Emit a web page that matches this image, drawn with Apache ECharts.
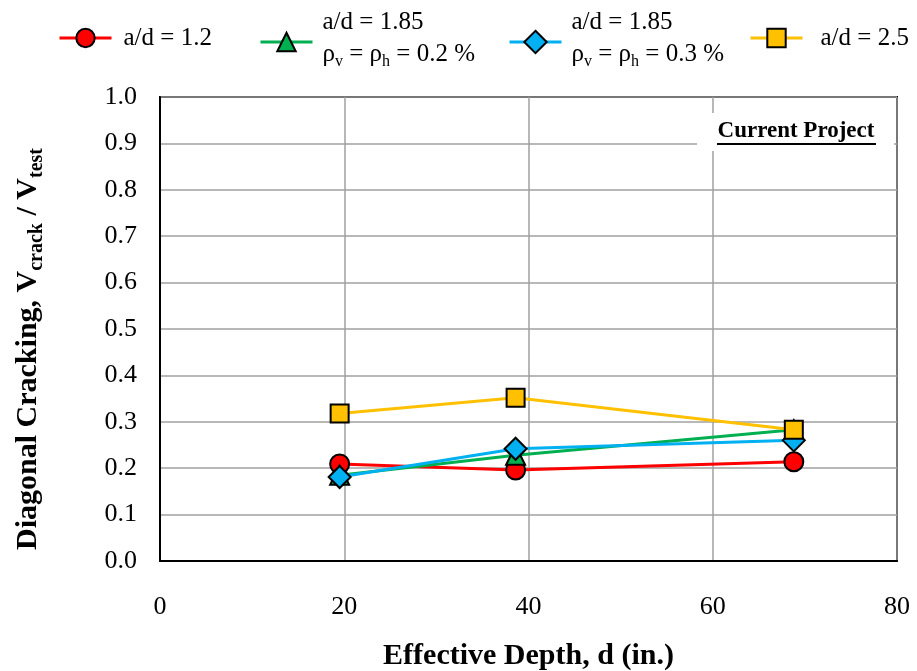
<!DOCTYPE html>
<html>
<head>
<meta charset="utf-8">
<script src="https://cdn.jsdelivr.net/npm/echarts@6/dist/echarts.min.js"></script>
<style>
  html, body { margin: 0; padding: 0; background: #fff; }
  #chart { width: 917px; height: 671px; }
</style>
</head>
<body>
<div id="chart"></div>
<script>
// Effective depth of the specimens (in.)
const depth = [19.5, 38.6, 68.8];

// Diagonal cracking ratio Vcrack / Vtest for each test group
const ad12      = [0.209, 0.196, 0.214];
const ad185p02  = [0.185, 0.228, 0.283];
const ad185p03  = [0.181, 0.242, 0.260];
const ad25      = [0.318, 0.352, 0.283];

// Axis tick settings
const xTicks = { min: 0, max: 80, step: 20 };
const yTicks = { min: 0, max: 1, step: 0.1 };

// Legend captions per series
const captions = {
  ad12: 'a/d = 1.2',
  ad185p02: 'a/d = 1.85\nρ{sub|v} = ρ{sub|h} = 0.2 %',
  ad185p03: 'a/d = 1.85\nρ{sub|v} = ρ{sub|h} = 0.3 %',
  ad25: 'a/d = 2.5'
};

const FONT = '"Liberation Serif", "Times New Roman", serif';
const pairs = arr => depth.map((d, i) => [d, arr[i]]);

const chart = echarts.init(document.getElementById('chart'), null, { renderer: 'canvas' });

function lineSeries(name, values, color, symbol, size) {
  return {
    name: name,
    type: 'line',
    data: pairs(values),
    symbol: symbol,
    symbolSize: size,
    lineStyle: { color: color, width: 3 },
    itemStyle: { color: color, borderColor: '#000', borderWidth: 2 },
    emphasis: { disabled: true },
    animation: false
  };
}

const legendText = {
  fontFamily: FONT,
  fontSize: 25,
  color: '#000',
  lineHeight: 32,
  rich: {
    sub: { fontFamily: FONT, fontSize: 16, color: '#000', verticalAlign: 'bottom', lineHeight: 26 }
  }
};

function legendAt(name, left, top, pad, itemH) {
  return {
    data: [name],
    left: left,
    top: top,
    padding: 0,
    itemWidth: 52,
    itemHeight: itemH,
    itemGap: 0,
    selectedMode: false,
    formatter: n => captions[n],
    lineStyle: { width: 3 },
    itemStyle: { borderColor: '#000', borderWidth: 2 },
    textStyle: Object.assign({ padding: pad }, legendText)
  };
}

chart.setOption({
  backgroundColor: '#fff',
  animation: false,
  legend: [
    legendAt('ad12', 58, 22, [0, 0, 0, 7], 23),
    legendAt('ad185p02', 259, 6, [0, 0, 8, 5], 23),
    legendAt('ad185p03', 508, 6, [0, 0, 8, 5], 28),
    legendAt('ad25', 749, 22, [0, 0, 0, 13], 23)
  ],
  grid: {
    left: 160, right: 20, top: 97, bottom: 110,
    outerBoundsMode: 'none',
    containLabel: false,
    show: true, borderColor: '#000', borderWidth: 2, backgroundColor: '#fff'
  },
  xAxis: {
    type: 'value',
    min: xTicks.min, max: xTicks.max, interval: xTicks.step,
    axisLine: { show: true, lineStyle: { color: '#000', width: 2 } },
    axisTick: { show: false },
    splitLine: { show: true, lineStyle: { color: '#a0a0a0', width: 1.5 } },
    axisLabel: { fontFamily: FONT, fontSize: 26, color: '#000', margin: 33 },
    name: 'Effective Depth, d (in.)',
    nameLocation: 'middle',
    nameGap: 80,
    nameTextStyle: { fontFamily: FONT, fontSize: 30, fontWeight: 'bold', color: '#000' }
  },
  yAxis: {
    type: 'value',
    min: yTicks.min, max: yTicks.max, interval: yTicks.step,
    axisLine: { show: true, lineStyle: { color: '#000', width: 2 } },
    axisTick: { show: false },
    splitLine: { show: true, lineStyle: { color: '#a0a0a0', width: 1.5 } },
    axisLabel: { fontFamily: FONT, fontSize: 26, color: '#000', margin: 23, formatter: v => v.toFixed(1) },
    name: 'Diagonal Cracking, V{sub|crack} / V{sub|test}',
    nameLocation: 'middle',
    nameRotate: 90,
    nameGap: 113,
    nameTextStyle: {
      fontFamily: FONT, fontSize: 30, fontWeight: 'bold', color: '#000',
      padding: [0, 40, 0, 0],
      rich: {
        sub: { fontFamily: FONT, fontSize: 20, fontWeight: 'bold', color: '#000', verticalAlign: 'bottom', lineHeight: 38 }
      }
    }
  },
  graphic: [
    {
      type: 'rect', z: 1,
      shape: { x: 697, y: 113, width: 197, height: 38 },
      style: { fill: '#fff' }
    },
    {
      type: 'text', z: 1,
      x: 796, y: 131,
      style: {
        text: 'Current Project', fontFamily: FONT, fontSize: 23, fontWeight: 'bold',
        fill: '#000', align: 'center', verticalAlign: 'middle'
      }
    },
    {
      type: 'line', z: 1,
      shape: { x1: 717, y1: 144, x2: 876, y2: 144 },
      style: { stroke: '#000', lineWidth: 2 }
    }
  ],
  series: [
    lineSeries('ad12', ad12, '#ff0000', 'circle', 19),
    lineSeries('ad185p02', ad185p02, '#00b050', 'triangle', 19),
    lineSeries('ad185p03', ad185p03, '#00b0f0', 'diamond', 22),
    lineSeries('ad25', ad25, '#ffc000', 'rect', 18)
  ]
});
</script>
</body>
</html>
